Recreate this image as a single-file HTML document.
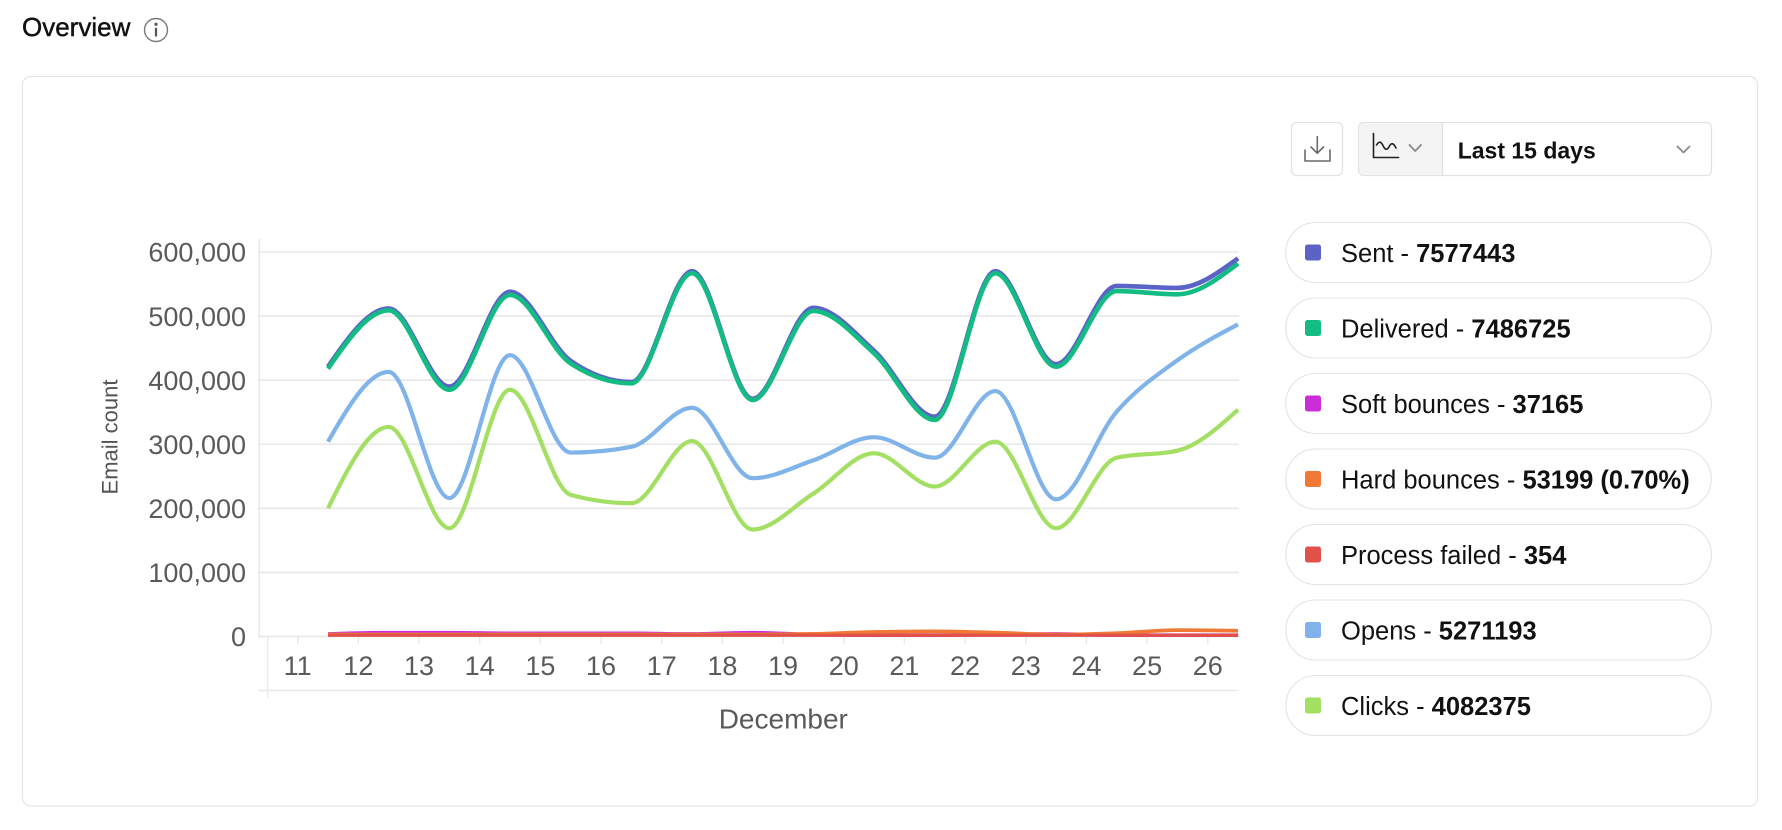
<!DOCTYPE html>
<html>
<head>
<meta charset="utf-8">
<style>
  html, body { margin:0; padding:0; background:#ffffff; }
  body { width:1782px; height:830px; overflow:hidden; position:relative; font-family:"Liberation Sans", Arial, sans-serif; }
  svg { position:absolute; left:0; top:0; }
</style>
</head>
<body>
<svg id="s" width="1782" height="830" viewBox="0 0 1782 830" xmlns="http://www.w3.org/2000/svg" font-family="Liberation Sans, Arial, sans-serif">
  <!-- Header -->
  <text x="22" y="36" font-size="26" fill="#111" stroke="#111" stroke-width="0.45">Overview</text>
  <circle cx="156" cy="30" r="11.5" fill="none" stroke="#7a7a7a" stroke-width="1.4"/>
  <circle cx="156" cy="24.2" r="1.6" fill="#555"/>
  <line x1="156" y1="27.8" x2="156" y2="36.5" stroke="#555" stroke-width="2.2"/>

  <!-- Card -->
  <rect x="22.5" y="76.5" width="1735" height="729.5" rx="8" ry="8" fill="#fff" stroke="#e6e6e6" stroke-width="1.2"/>

  <!-- Download button -->
  <rect x="1291.5" y="122.5" width="51" height="53" rx="5" fill="#fff" stroke="#e2e2e2" stroke-width="1.2"/>
  <g stroke="#6a6a6a" stroke-width="1.6" fill="none" stroke-linecap="round" stroke-linejoin="round">
    <line x1="1317.3" y1="136.7" x2="1317.3" y2="153"/>
    <polyline points="1311,147 1317.3,153.2 1323.6,147"/>
    <polyline points="1305,150 1305,161 1330,161 1330,150"/>
  </g>

  <!-- Dropdown -->
  <rect x="1358.5" y="122.5" width="353" height="53" rx="5" fill="#fff" stroke="#e2e2e2" stroke-width="1.2"/>
  <path d="M1442.5,123.1 H1363.5 A4.5,4.5 0 0 0 1359.1,127.5 V170.5 A4.5,4.5 0 0 0 1363.5,174.9 H1442.5 Z" fill="#f4f4f4"/>
  <line x1="1442.5" y1="123" x2="1442.5" y2="175" stroke="#e2e2e2" stroke-width="1.2"/>
  <g stroke="#222" stroke-width="1.6" fill="none" stroke-linecap="round" stroke-linejoin="round">
    <polyline points="1373.5,133.5 1373.5,157.5 1398.5,157.5"/>
    <path d="M1376.5,145 C1379,141 1381,141 1383.5,146.5 C1385.5,150.5 1387.5,150 1389.5,146 C1391.5,142.5 1393.5,143 1396,148"/>
  </g>
  <polyline points="1409.5,145 1415.2,151 1421,145" fill="none" stroke="#8a8a8a" stroke-width="1.8" stroke-linecap="round" stroke-linejoin="round"/>
  <text x="1457.7" y="158.4" font-size="23" font-weight="bold" fill="#111">Last 15 days</text>
  <polyline points="1677.5,146.5 1683.5,152.5 1689.5,146.5" fill="none" stroke="#8a8a8a" stroke-width="1.8" stroke-linecap="round" stroke-linejoin="round"/>

  <!-- Legend -->
  <g id="legend"></g>

  <!-- Chart grid -->
  <g id="grid"></g>
  <g id="series"></g>
  <g id="labels" font-size="27" fill="#5a5a5a"></g>
  <text x="783.3" y="728.7" font-size="28" fill="#5a5a5a" text-anchor="middle">December</text>
  <text transform="translate(117.3,437) rotate(-90)" font-size="22" fill="#555" text-anchor="middle">Email count</text>
</svg>

<script>
(function(){
  var NS = "http://www.w3.org/2000/svg";
  function el(tag, attrs, parent, text){
    var e = document.createElementNS(NS, tag);
    for (var k in attrs) e.setAttribute(k, attrs[k]);
    if (text !== undefined) e.textContent = text;
    parent.appendChild(e);
    return e;
  }
  var grid = document.getElementById('grid');
  var labels = document.getElementById('labels');
  var series = document.getElementById('series');
  var legend = document.getElementById('legend');

  var y0 = 636.5, yScale = 384.5/600000;
  function Y(v){ return y0 - v*yScale; }
  var gridColor = "#e8e8e8";

  var ylabs = ["0","100,000","200,000","300,000","400,000","500,000","600,000"];
  for (var i=0;i<=6;i++){
    var yy = Y(i*100000);
    el('line',{x1:258,y1:yy,x2:1239,y2:yy,stroke:gridColor,'stroke-width':1.6},grid);
    el('text',{x:246,y:yy+9.7,'text-anchor':'end'},labels,ylabs[i]);
  }
  el('line',{x1:259.2,y1:239,x2:259.2,y2:637,stroke:gridColor,'stroke-width':1.6},grid);
  el('line',{x1:258,y1:690.5,x2:1239,y2:690.5,stroke:gridColor,'stroke-width':1.6},grid);
  el('line',{x1:267.7,y1:636.5,x2:267.7,y2:698,stroke:gridColor,'stroke-width':1.2},grid);
  for (var k=0;k<16;k++){
    var tx = 297.7 + 60.67*k;
    el('line',{x1:tx,y1:636.5,x2:tx,y2:644,stroke:gridColor,'stroke-width':1.4},grid);
    el('text',{x:tx,y:675,'text-anchor':'middle'},labels,String(11+k));
  }

  var xs = [];
  for (var j=0;j<16;j++) xs.push(328 + 60.67*j);
  var K = 1000;
  var data = [
    {c:"#5b63c7", w:4.6, v:[421,512,390,538,430,397,570,371,513,446,343,570,425,547,544,590]},
    {c:"#12bc82", w:4.6, v:[418,509,385,533,426,395,567,369,508,442,338,567,421,539,534,582]},
    {c:"#c92ed8", w:3.6, v:[4,6,6,5,5,5,4,6,3,2,2,3,4,2,2,2]},
    {c:"#f07a35", w:3.8, v:[3,3,3,3,3,3,3,3,4,7,8,6,3,5,10,9]},
    {c:"#e2504a", w:3.2, v:[2,2,2,2,2,2,2,2,2,2,2,2,2,2,2,2]},
    {c:"#7fb3e9", w:4.2, v:[304,413,216,439,287,296,357,247,275,311,279,383,214,351,431,487]},
    {c:"#a3df62", w:4.2, v:[200,327,169,385,221,208,305,167,223,286,234,304,169,279,290,354]}
  ];

  function sign(a){ return a<0?-1:1; }
  function monotonePath(px, py){
    var n = px.length, m = new Array(n), s = [];
    for (var i=0;i<n-1;i++) s.push((py[i+1]-py[i])/(px[i+1]-px[i]));
    for (var i=1;i<n-1;i++){
      var h0 = px[i]-px[i-1], h1 = px[i+1]-px[i];
      var s0 = s[i-1], s1 = s[i];
      var p = (s0*h1 + s1*h0)/(h0+h1);
      m[i] = (sign(s0)+sign(s1)) * Math.min(Math.abs(s0), Math.abs(s1), 0.5*Math.abs(p)) || 0;
    }
    m[0] = (3*s[0] - m[1])/2;
    m[n-1] = (3*s[n-2] - m[n-2])/2;
    var d = "M" + px[0].toFixed(2) + "," + py[0].toFixed(2);
    for (var i=0;i<n-1;i++){
      var h = (px[i+1]-px[i])/3;
      d += " C" + (px[i]+h).toFixed(2) + "," + (py[i]+h*m[i]).toFixed(2) + " " +
           (px[i+1]-h).toFixed(2) + "," + (py[i+1]-h*m[i+1]).toFixed(2) + " " +
           px[i+1].toFixed(2) + "," + py[i+1].toFixed(2);
    }
    return d;
  }
  data.forEach(function(sr){
    var py = sr.v.map(function(v){ return Y(v*K); });
    el('path',{d:monotonePath(xs,py),fill:'none',stroke:sr.c,'stroke-width':sr.w,'stroke-linejoin':'round','stroke-linecap':'butt'},series);
  });

  var items = [
    ["#5b63c7","Sent - ","7577443"],
    ["#12bc82","Delivered - ","7486725"],
    ["#c92ed8","Soft bounces - ","37165"],
    ["#f07a35","Hard bounces - ","53199 (0.70%)"],
    ["#e2504a","Process failed - ","354"],
    ["#7fb3e9","Opens - ","5271193"],
    ["#a3df62","Clicks - ","4082375"]
  ];
  items.forEach(function(it, i){
    var top = 222 + 75.5*i;
    el('rect',{x:1285.8,y:top+0.5,width:425.5,height:60,rx:30,ry:30,fill:'#fff',stroke:'#e3e3e3','stroke-width':1.1},legend);
    el('rect',{x:1305,y:top+22.5,width:16,height:16,rx:2.5,ry:2.5,fill:it[0]},legend);
    var t = el('text',{x:1341,y:top+40.2,'font-size':25.5,fill:'#111'},legend);
    el('tspan',{},t,it[1]);
    el('tspan',{'font-weight':'bold'},t,it[2]);
  });
})();
</script>
</body>
</html>
